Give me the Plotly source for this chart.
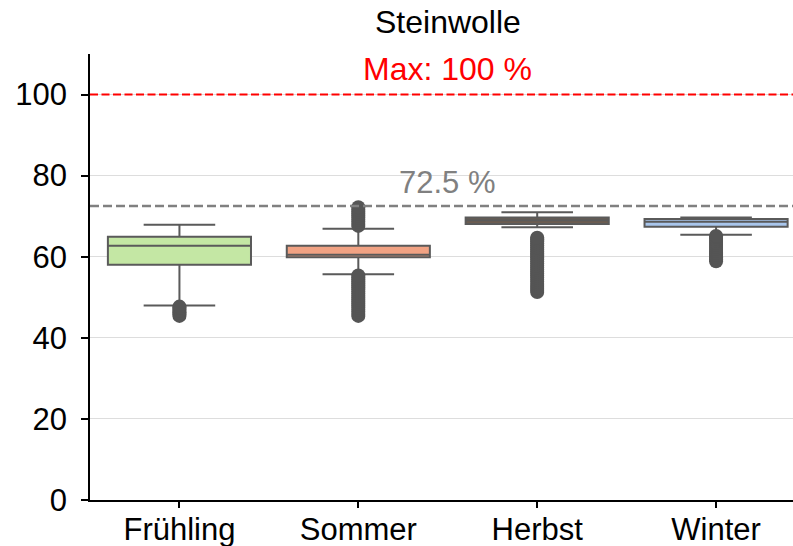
import plotly.graph_objects as go

seasons = ["Frühling", "Sommer", "Herbst", "Winter"]
q1 = [58.0, 59.9, 68.1, 67.4]
median = [62.7, 60.5, 69.0, 68.6]
q3 = [64.9, 62.7, 69.7, 69.3]
lower_whisker = [48.0, 55.7, 67.3, 65.4]
upper_whisker = [67.9, 66.9, 71.0, 69.7]
fill_colors = ["#c4e7a4", "#f1a283", "#6b5c51", "#a9c6ec"]

outliers = {
    "Frühling": [45.4, 45.8, 46.2, 46.6, 47.0, 47.4, 47.7],
    "Sommer": [45.4, 45.9, 46.4, 46.9, 47.4, 47.9, 48.4, 48.9, 49.4, 49.9, 50.4,
               50.9, 51.4, 51.9, 52.4, 52.9, 53.4, 53.9, 54.4, 54.9, 55.4,
               67.6, 68.1, 68.6, 69.1, 69.6, 70.1, 70.6, 71.1, 71.6, 72.2],
    "Herbst": [51.3, 51.8, 52.3, 52.8, 53.3, 53.8, 54.3, 54.8, 55.3, 55.8, 56.3,
               56.8, 57.3, 57.8, 58.3, 58.8, 59.3, 59.8, 60.3, 60.8, 61.3, 61.8,
               62.3, 62.8, 63.3, 63.8, 64.3, 64.7],
    "Winter": [58.9, 59.4, 59.9, 60.4, 60.9, 61.4, 61.9, 62.4, 62.9, 63.4, 63.9,
               64.4, 64.9, 65.1],
}

title_text = "Steinwolle"
max_value = 100
max_label = "Max: 100 %"
ref_value = 72.5
ref_label = "72.5 %"
y_ticks = [0, 20, 40, 60, 80, 100]

FONT = "Liberation Sans, Arial, sans-serif"
EDGE = "#5a5a5a"

fig = go.Figure()
for i, s in enumerate(seasons):
    fig.add_trace(go.Box(
        x=[s], q1=[q1[i]], median=[median[i]], q3=[q3[i]],
        lowerfence=[lower_whisker[i]], upperfence=[upper_whisker[i]],
        fillcolor=fill_colors[i], line=dict(color=EDGE, width=2),
        whiskerwidth=0.5, width=0.8, boxpoints=False, showlegend=False,
        hoverinfo="skip",
    ))
    fig.add_trace(go.Scatter(
        x=[s] * len(outliers[s]), y=outliers[s], mode="markers",
        marker=dict(size=14, color="#555555", line=dict(width=0)),
        showlegend=False, hoverinfo="skip",
    ))

fig.add_shape(type="line", xref="paper", x0=0, x1=1, yref="y", y0=max_value, y1=max_value,
              line=dict(color="red", width=2, dash="8px,3.5px"), layer="above")
fig.add_shape(type="line", xref="paper", x0=0, x1=1, yref="y", y0=ref_value, y1=ref_value,
              line=dict(color="#808080", width=2.5, dash="9px,4px"), layer="above")

fig.add_annotation(x=1.5, xref="x", y=max_value, yref="y", text=max_label, showarrow=False,
                   yanchor="bottom", yshift=6, font=dict(family=FONT, size=32, color="red"))
fig.add_annotation(x=1.5, xref="x", y=ref_value, yref="y", text=ref_label, showarrow=False,
                   yanchor="bottom", yshift=4, font=dict(family=FONT, size=31, color="#808080"))
fig.add_annotation(x=1.5, xref="x", y=1, yref="paper", text=title_text, showarrow=False,
                   yanchor="bottom", yshift=12, font=dict(family=FONT, size=32, color="black"))

fig.update_layout(
    width=793, height=546,
    margin=dict(l=90, r=0, t=54, b=46, autoexpand=False),
    plot_bgcolor="white", paper_bgcolor="white",
    font=dict(family=FONT, size=30, color="black"),
    boxmode="overlay",
)
fig.update_xaxes(type="category", categoryorder="array", categoryarray=seasons,
                 range=[-0.5, 3.43], showline=True, linecolor="black", linewidth=1.5,
                 ticks="outside", ticklen=6, tickcolor="black", tickwidth=1.5,
                 showgrid=False, zeroline=False, tickfont=dict(size=31),
                 automargin=False, ticklabelstandoff=-5)
fig.update_yaxes(range=[0, 110], tickvals=y_ticks, showline=True, linecolor="black",
                 linewidth=1.5, ticks="outside", ticklen=7, tickcolor="black", tickwidth=1.5,
                 showgrid=True, gridcolor="#dddddd", gridwidth=1, zeroline=False,
                 tickfont=dict(size=31), automargin=False, ticklabelstandoff=8)

fig.write_html("out.html", config={"displayModeBar": False},
               post_script="document.body.style.margin='0';")
